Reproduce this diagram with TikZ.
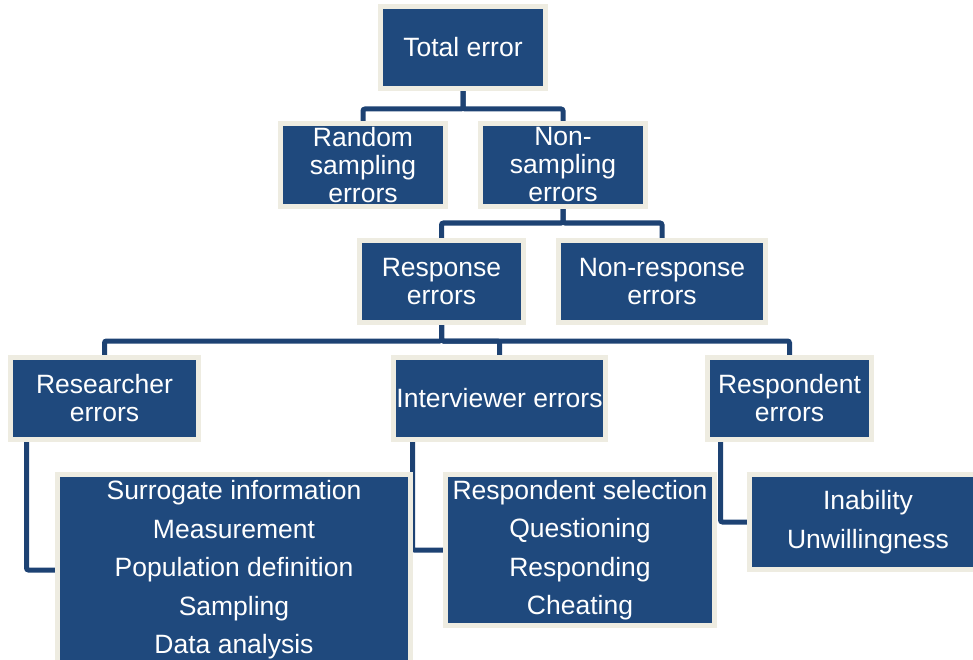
\documentclass[tikz,border=0pt]{standalone}
\usepackage{fontspec}
\setmainfont{Liberation Sans}
\usetikzlibrary{backgrounds}
\definecolor{boxblue}{HTML}{1F497D}
\definecolor{lineblue}{HTML}{1D4273}
\definecolor{boxcream}{HTML}{EEECE1}
\begin{document}
\begin{tikzpicture}[x=1pt, y=-1pt,
    box/.style={draw=boxcream, line width=5pt, fill=boxblue, text=white,
      inner sep=0pt, align=center, font=\fontsize{26.5}{28}\selectfont},
    listbox/.style={box, font=\fontsize{26.5}{38.5}\selectfont},
    link/.style={draw=lineblue, line width=5pt, rounded corners=2pt}]
  % Marco de la figura
  \useasboundingbox (0,0) rectangle (973,660);
  \clip (0,0) rectangle (973,660);

  % Nivel 1 y 2
  \node[box, minimum width=165, minimum height=82] (total) at (463,47.5) {Total error};
  \node[box, minimum width=165, minimum height=83] (random) at (363,165) {Random\\sampling\\errors};
  \node[box, minimum width=165, minimum height=83] (nonsamp) at (563,165) {Non-\\sampling\\errors};

  % Nivel 3
  \node[box, minimum width=164, minimum height=82] (response) at (441.5,281.5) {Response\\errors};
  \node[box, minimum width=207, minimum height=82] (nonresp) at (662,281.5) {Non-response\\errors};

  % Nivel 4
  \node[box, minimum width=188, minimum height=82] (researcher) at (104.5,398.5) {Researcher\\errors};
  \node[box, minimum width=212, minimum height=82] (interviewer) at (499.5,398.5) {Interviewer errors};
  \node[box, minimum width=164, minimum height=82] (respondent) at (789.5,398.5) {Respondent\\errors};

  % Listas
  \node[listbox, minimum width=353, minimum height=191] (reslist) at (234,570)
    {Surrogate information\\Measurement\\Population definition\\Sampling\\Data analysis};
  \node[listbox, minimum width=269, minimum height=151] (intlist) at (580,550)
    {Respondent selection\\Questioning\\Responding\\Cheating};
  \node[listbox, minimum width=237, minimum height=95] (resplist) at (868,522)
    {Inability\\Unwillingness};

  % Conectores
  \begin{scope}[on background layer]
    \draw[link] (total.south) -- ++(0,18) -| (random.north);
    \draw[link] (total.south) -- ++(0,18) -| (nonsamp.north);
    \draw[link] (nonsamp.south) -- ++(0,14) -| (response.north);
    \draw[link] (nonsamp.south) -- ++(0,14) -| (nonresp.north);
    \draw[link] (response.south) -- ++(0,16) -| (researcher.north);
    \draw[link] (response.south) -- ++(0,16) -| (interviewer.north);
    \draw[link] (response.south) -- ++(0,16) -| (respondent.north);
    \draw[link] ([xshift=18.5]researcher.south west) |- (reslist.west);
    \draw[link] ([xshift=21.5]interviewer.south west) |- (intlist.west);
    \draw[link] ([xshift=15.5]respondent.south west) |- (resplist.west);
  \end{scope}
\end{tikzpicture}
\end{document}
